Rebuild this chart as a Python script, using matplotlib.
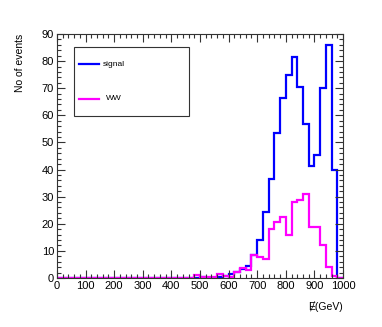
import numpy as np
import matplotlib.pyplot as plt
from matplotlib.patches import Rectangle
from matplotlib.lines import Line2D
from matplotlib.ticker import MultipleLocator

plt.rcParams['font.family'] = ['Liberation Sans', 'DejaVu Sans']

# histogram binning: 50 bins of 20 GeV from 0 to 1000
bin_edges = np.arange(0, 1001, 20)

# bin contents (bins below 480 GeV are empty)
signal_counts = [0] * 25 + [0.3, 0, 0, 0.3, 0.7, 1.3, 2.2, 3.4, 4.4, 8.5,
                            14.0, 24.4, 36.4, 53.5, 66.4, 74.7, 81.5, 70.4, 56.7, 41.3,
                            45.2, 70.1, 86.1, 40.0, 0]
ww_counts = [0] * 24 + [1.2, 0.3, 0.3, 0.3, 1.4, 0.6, 0.4, 2.3, 3.8, 3.1,
                        8.3, 7.8, 6.9, 18.1, 20.7, 22.5, 15.9, 28.0, 28.7, 31.0,
                        18.8, 18.8, 12.3, 4.2, 0.7, 0]

series_labels = ["signal", "WW"]
series_colors = ["#0000ff", "#ff00ff"]

fig = plt.figure(figsize=(3.82, 3.27), dpi=100)
ax = fig.add_axes([0.149, 0.150, 0.749, 0.746])

for counts, col in zip([signal_counts, ww_counts], series_colors):
    ax.stairs(counts, bin_edges, color=col, lw=1.6, baseline=0)

ax.set_xlim(0, 1000)
ax.set_ylim(0, 90)
ax.xaxis.set_major_locator(MultipleLocator(100))
ax.xaxis.set_minor_locator(MultipleLocator(20))
ax.yaxis.set_major_locator(MultipleLocator(10))
ax.yaxis.set_minor_locator(MultipleLocator(2))
ax.tick_params(which='both', direction='in', top=True, right=True,
               labelsize=8, width=0.8, color='#333333', pad=2)
ax.tick_params(which='major', length=6)
ax.tick_params(which='minor', length=3)
for s in ax.spines.values():
    s.set_linewidth(0.8)
    s.set_color('#333333')

fig.text(0.052, 0.897, "No of events", rotation=90, ha='center', va='top', fontsize=7.5)
fig.text(0.898, 0.063, "Ɇ(GeV)", ha='right', va='center', fontsize=7.5)

# ROOT-style legend box
leg_box = Rectangle((74 / 382, 1 - 116 / 327), 115 / 382, 69 / 327,
                    transform=fig.transFigure, fill=False, lw=0.8, ec='#333333')
fig.add_artist(leg_box)
for lab, col, ypix, xtxt in zip(series_labels, series_colors, [64, 99], [103, 106]):
    yf = 1 - ypix / 327
    fig.add_artist(Line2D([79 / 382, 99 / 382], [yf, yf], color=col, lw=1.6,
                          transform=fig.transFigure))
    fig.text(xtxt / 382, yf, lab, ha='left', va='center', fontsize=6)

fig.savefig("out.png", dpi=100)
